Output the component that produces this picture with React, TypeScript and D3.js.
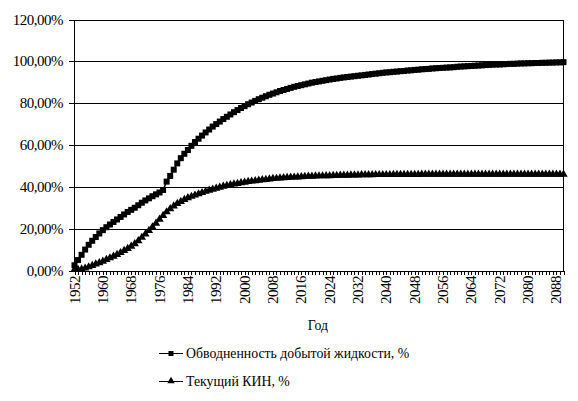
import React from "react";
import * as d3 from "d3";

const years: number[] = d3.range(1952, 2091);

const waterCut: number[] = [
  2.5, 5.0, 7.5, 10.0, 12.3, 14.2, 16.0, 17.7, 19.3, 20.7,
  22.0, 23.2, 24.4, 25.6, 26.8, 28.0, 29.0, 30.0, 31.2, 32.4,
  33.5, 34.5, 35.5, 36.4, 37.3, 38.5, 42.5, 45.2, 48.2, 51.2,
  53.7, 55.8, 57.6, 59.6, 61.4, 63.0, 64.5, 66.0, 67.4, 68.8,
  70.0, 71.2, 72.4, 73.5, 74.6, 75.7, 76.7, 77.7, 78.6, 79.5,
  80.3, 81.1, 81.9, 82.6, 83.3, 84.0, 84.6, 85.2, 85.8, 86.3,
  86.8, 87.3, 87.8, 88.2, 88.6, 89.0, 89.4, 89.8, 90.1, 90.4,
  90.7, 91.0, 91.3, 91.6, 91.8, 92.1, 92.3, 92.5, 92.7, 92.9,
  93.1, 93.3, 93.5, 93.7, 93.9, 94.1, 94.3, 94.5, 94.7, 94.8,
  95.0, 95.1, 95.3, 95.4, 95.6, 95.7, 95.9, 96.0, 96.2, 96.3,
  96.4, 96.6, 96.7, 96.8, 96.9, 97.0, 97.1, 97.2, 97.4, 97.5,
  97.6, 97.7, 97.8, 97.9, 98.0, 98.1, 98.2, 98.3, 98.4, 98.5,
  98.5, 98.6, 98.7, 98.8, 98.8, 98.9, 99.0, 99.0, 99.1, 99.1,
  99.2, 99.2, 99.3, 99.3, 99.4, 99.4, 99.5, 99.5, 99.6,
];

const kin: number[] = [
  0.4, 0.5, 0.7, 1.1, 1.7, 2.4, 3.1, 3.7, 4.4, 5.2,
  6.0, 6.8, 7.6, 8.5, 9.5, 10.5, 11.6, 12.8, 14.2, 15.8,
  17.4, 19.1, 20.8, 22.6, 24.5, 26.3, 28.0, 29.5, 30.8, 32.0,
  33.0, 33.9, 34.7, 35.4, 36.0, 36.6, 37.2, 37.8, 38.3, 38.8,
  39.3, 39.8, 40.2, 40.6, 41.0, 41.3, 41.6, 41.9, 42.2, 42.5,
  42.7, 42.9, 43.1, 43.3, 43.5, 43.7, 43.9, 44.0, 44.2, 44.3,
  44.4, 44.5, 44.6, 44.7, 44.8, 44.9, 45.0, 45.0, 45.1, 45.2,
  45.2, 45.3, 45.3, 45.4, 45.4, 45.5, 45.5, 45.5, 45.6, 45.6,
  45.6, 45.7, 45.7, 45.7, 45.7, 45.8, 45.8, 45.8, 45.8, 45.8,
  45.9, 45.9, 45.9, 45.9, 45.9, 45.9, 45.9, 45.9, 46.0, 46.0,
  46.0, 46.0, 46.0, 46.0, 46.0, 46.0, 46.0, 46.0, 46.0, 46.0,
  46.0, 46.0, 46.0, 46.0, 46.0, 46.0, 46.0, 46.0, 46.0, 46.0,
  46.0, 46.0, 46.0, 46.0, 46.0, 46.0, 46.0, 46.0, 46.0, 46.0,
  46.0, 46.0, 46.0, 46.0, 46.0, 46.0, 46.0, 46.0, 46.0,
];

const yTicks: number[] = [0, 20, 40, 60, 80, 100, 120];
const yTickLabels: string[] = ["0,00%", "20,00%", "40,00%", "60,00%", "80,00%", "100,00%", "120,00%"];
const xTickLabels: number[] = [1952, 1960, 1968, 1976, 1984, 1992, 2000, 2008, 2016, 2024, 2032, 2040, 2048, 2056, 2064, 2072, 2080, 2088];

const axisTitle = "Год";
const seriesNames: string[] = ["Обводненность добытой жидкости, %", "Текущий КИН, %"];

const W = 578;
const H = 401;
const FONT = "Liberation Serif";
const LEG_S = 0.92;

export default function App() {
  const x = d3.scaleLinear().domain([1952, 2090]).range([74.5, 563.5]);
  const y = d3.scaleLinear().domain([0, 120]).range([270.5, 19.5]);

  const line = d3
    .line<[number, number]>()
    .x((d) => x(d[0]))
    .y((d) => y(d[1]));

  const wcPts: [number, number][] = years.map((yr, i) => [yr, waterCut[i]]);
  const kinPts: [number, number][] = years.map((yr, i) => [yr, kin[i]]);

  const tri = d3.symbol().type(d3.symbolTriangle).size(30)();
  const triLeg = d3.symbol().type(d3.symbolTriangle).size(24)();

  const axTxt = { fontFamily: FONT, fontSize: "15px", letterSpacing: "-0.5px" } as React.CSSProperties;
  const txt = { fontFamily: FONT, fontSize: "15px" } as React.CSSProperties;

  return (
    <svg width={W} height={H} style={{ position: "absolute", left: 0, top: 0, background: "#fff" }}>
      <rect x={0} y={0} width={W} height={H} fill="#fff" />
      {yTicks.map((t) => (
        <line
          key={"g" + t}
          x1={x(1952)}
          x2={x(2090)}
          y1={Math.round(y(t)) + 0.5}
          y2={Math.round(y(t)) + 0.5}
          stroke="#000"
          strokeWidth={1}
          shapeRendering="crispEdges"
        />
      ))}
      <line x1={x(2090)} x2={x(2090)} y1={y(120)} y2={y(0)} stroke="#000" shapeRendering="crispEdges" />
      <line x1={x(1952)} x2={x(1952)} y1={y(120)} y2={y(0)} stroke="#000" shapeRendering="crispEdges" />
      {yTicks.map((t) => (
        <line
          key={"ytk" + t}
          x1={x(1952) - 6}
          x2={x(1952)}
          y1={Math.round(y(t)) + 0.5}
          y2={Math.round(y(t)) + 0.5}
          stroke="#000"
          shapeRendering="crispEdges"
        />
      ))}
      {yTicks.map((t, i) => (
        <text key={"yl" + t} x={63} y={y(t)} textAnchor="end" dominantBaseline="central" style={axTxt} fill="#000">
          {yTickLabels[i]}
        </text>
      ))}
      {years.map((yr) => (
        <line
          key={"xt" + yr}
          x1={Math.round(x(yr)) + 0.5}
          x2={Math.round(x(yr)) + 0.5}
          y1={y(0)}
          y2={y(0) + 4}
          stroke="#000"
          shapeRendering="crispEdges"
        />
      ))}
      {xTickLabels.map((yr) => (
        <text
          key={"xl" + yr}
          transform={`translate(${x(yr)},${276}) rotate(-90)`}
          textAnchor="end"
          dominantBaseline="central"
          style={axTxt}
          fill="#000"
        >
          {yr}
        </text>
      ))}
      <text transform={`translate(318,330) scale(${LEG_S})`} textAnchor="middle" style={txt} fill="#000">
        {axisTitle}
      </text>

      <path d={line(wcPts) || ""} fill="none" stroke="#000" strokeWidth={1.5} />
      {wcPts.map((p, i) => (
        <rect key={"s" + i} x={x(p[0]) - 3} y={y(p[1]) - 3} width={6} height={6} fill="#000" />
      ))}
      <path d={line(kinPts) || ""} fill="none" stroke="#000" strokeWidth={1.5} />
      {kinPts.map((p, i) => (
        <path key={"t" + i} d={tri || ""} transform={`translate(${x(p[0])},${y(p[1])})`} fill="#000" />
      ))}

      <line x1={159} x2={183} y1={353.5} y2={353.5} stroke="#000" />
      <rect x={168.5} y={351} width={5} height={5} fill="#000" />
      <text
        transform={`translate(186,353.5) scale(${LEG_S})`}
        dominantBaseline="central"
        style={txt}
        fill="#000"
      >
        {seriesNames[0]}
      </text>
      <line x1={159} x2={183} y1={381.5} y2={381.5} stroke="#000" />
      <path d={triLeg || ""} transform="translate(171,381)" fill="#000" />
      <text
        transform={`translate(186,381.5) scale(${LEG_S})`}
        dominantBaseline="central"
        style={txt}
        fill="#000"
      >
        {seriesNames[1]}
      </text>
    </svg>
  );
}
